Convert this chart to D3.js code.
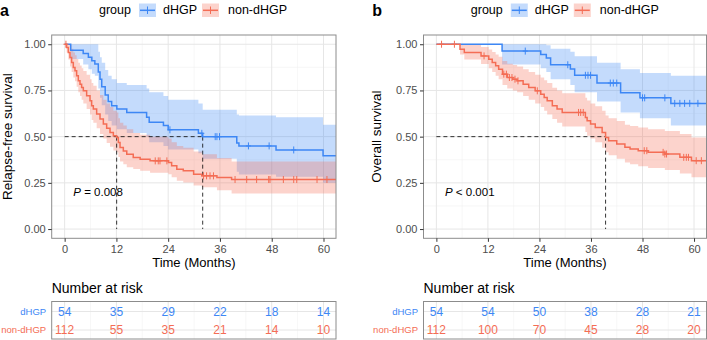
<!DOCTYPE html>
<html>
<head>
<meta charset="utf-8">
<script src="https://cdn.jsdelivr.net/npm/d3@7"></script>
<style>
body { margin: 0; background: #fff; }
svg { display: block; font-family: "Liberation Sans", Arial, sans-serif; }
</style>
</head>
<body>
<div id="chart"></div>
<script>
var W = 707, H = 340;

var groups = ["dHGP", "non-dHGP"];
var colors = ["#3D87F5", "#F46D55"];
var timeBreaks = [0, 12, 24, 36, 48, 60];
var timeMinor = [6, 18, 30, 42, 54];
var survBreaks = [0, 0.25, 0.5, 0.75, 1];
var survMinor = [0.125, 0.375, 0.625, 0.875];
var followEnd = 63;

// panel a: relapse-free survival
var rfsDhgpTime  = [0, 1.4, 4.3, 5.5, 6.3, 7.0, 7.8, 8.2, 8.6, 9.4, 10.1, 10.9, 12.1, 14.4, 19.0, 19.6, 22.9, 24.0, 31.0, 32.0, 39.9, 40.4, 49.0, 59.9];
var rfsDhgpSurv  = [1, .968, .95, .93, .911, .893, .85, .81, .77, .725, .69, .667, .649, .63, .605, .578, .56, .537, .518, .50, .465, .45, .428, .396];
var rfsDhgpUpper = [1, 1, 1, 1, 1, 1, .96, .93, .90, .86, .83, .81, .79, .78, .76, .74, .72, .70, .68, .645, .62, .615, .605, .565];
var rfsDhgpLower = [1, .92, .89, .865, .84, .83, .76, .71, .67, .62, .585, .56, .54, .52, .50, .47, .45, .43, .41, .38, .31, .295, .283, .25];
var rfsDhgpCensor = [24.4, 31.8, 34.9, 35.3, 35.9, 42.6, 47.4, 53.1];

var rfsNonTime  = [0, 0.46, 0.85, 1.24, 1.62, 2.01, 2.4, 2.78, 3.17, 3.56, 3.94, 4.33, 5.1, 5.88, 6.26, 6.65, 7.42, 8.2, 8.97, 9.74, 10.52, 11.29, 12.06, 12.45, 12.84, 13.6, 14.4, 15.9, 17.5, 19.8, 24.05, 24.8, 26, 27.5, 29.9, 31.8, 35.3, 38.7];
var rfsNonSurv  = [1, .982, .955, .928, .901, .874, .856, .829, .802, .784, .766, .748, .721, .694, .667, .649, .622, .595, .568, .546, .523, .505, .495, .468, .441, .423, .405, .387, .378, .369, .36, .342, .324, .315, .297, .288, .279, .268];
var rfsNonUpper = [1, 1, 1, .995, .975, .955, .94, .92, .9, .885, .87, .855, .835, .81, .79, .775, .75, .725, .7, .68, .66, .64, .63, .6, .575, .56, .54, .52, .51, .5, .49, .47, .45, .44, .42, .405, .385, .365];
var rfsNonLower = [1, .955, .917, .88, .85, .82, .8, .77, .74, .72, .7, .68, .65, .62, .59, .575, .545, .515, .49, .465, .445, .425, .415, .39, .365, .35, .335, .325, .315, .305, .297, .28, .262, .252, .236, .226, .21, .193];
var rfsNonCensor = [0.3, 21, 21.7, 22.1, 23.7, 32.2, 32.9, 33.7, 34.5, 39.5, 42.2, 44.5, 47.3, 47.6, 50.7, 53.1, 53.8, 58.5, 60.8];

// panel b: overall survival
var osDhgpTime  = [0, 15.3, 24.3, 25.6, 26.6, 31.2, 32.2, 37.4, 42.9, 47.4, 54.6];
var osDhgpSurv  = [1, .963, .944, .926, .889, .866, .832, .79, .738, .71, .68];
var osDhgpUpper = [1, 1, 1, .995, .975, .96, .935, .9, .865, .845, .83];
var osDhgpLower = [1, .89, .87, .85, .81, .78, .74, .69, .63, .6, .56];
var osDhgpCensor = [20.7, 30.6, 34.7, 35.3, 35.9, 40.5, 41.2, 42.0, 48.0, 48.5, 53.2, 55.5, 56.7, 57.8, 59.0, 60.9];

var osNonTime  = [0, 5.5, 6.5, 10.4, 12.2, 13.0, 13.8, 14.5, 15.4, 16.5, 17.8, 18.8, 20.2, 21.5, 23.0, 24.3, 25.1, 25.8, 27.0, 28.1, 29.3, 34.7, 35.1, 35.9, 37.0, 38.6, 39.4, 40.1, 42.0, 43.9, 45.1, 47.0, 49.3, 53.2, 56.7, 59.4];
var osNonSurv  = [1, .973, .955, .937, .919, .901, .883, .865, .838, .82, .811, .802, .784, .766, .748, .73, .712, .694, .667, .649, .631, .604, .586, .568, .55, .523, .496, .478, .46, .442, .433, .424, .415, .406, .388, .37];
var osNonUpper = [1, 1, 1, .985, .972, .958, .945, .932, .91, .895, .888, .88, .865, .85, .835, .82, .805, .79, .765, .75, .735, .71, .695, .68, .665, .64, .615, .6, .585, .565, .558, .55, .54, .53, .515, .495];
var osNonLower = [1, .945, .917, .893, .87, .85, .83, .81, .78, .76, .75, .74, .72, .70, .68, .66, .64, .62, .595, .575, .555, .525, .505, .49, .47, .44, .415, .4, .38, .36, .35, .34, .33, .32, .30, .28];
var osNonCensor = [1.2, 4.2, 11.1, 15.7, 16.3, 17.0, 17.6, 18.3, 19.0, 23.5, 33.1, 33.6, 34.2, 48.4, 49.0, 52.8, 53.2, 53.6, 57.6, 58.2, 58.7, 60.5, 61.7];

// number at risk at timeBreaks
var riskRfsDhgp = [54, 35, 29, 22, 18, 14];
var riskRfsNon  = [112, 55, 35, 21, 14, 10];
var riskOsDhgp  = [54, 54, 50, 38, 28, 21];
var riskOsNon   = [112, 100, 70, 45, 28, 20];

var panels = [
  {label: "a", left: 51.7, right: 336, ytitle: "Relapse-free survival", ytitleX: 11.5, pval: " = 0.008",
   series: [
     {time: rfsDhgpTime, surv: rfsDhgpSurv, upper: rfsDhgpUpper, lower: rfsDhgpLower, censor: rfsDhgpCensor},
     {time: rfsNonTime, surv: rfsNonSurv, upper: rfsNonUpper, lower: rfsNonLower, censor: rfsNonCensor}],
   risk: [riskRfsDhgp, riskRfsNon]},
  {label: "b", left: 423.5, right: 706.5, ytitle: "Overall survival", ytitleX: 381, pval: " < 0.001",
   series: [
     {time: osDhgpTime, surv: osDhgpSurv, upper: osDhgpUpper, lower: osDhgpLower, censor: osDhgpCensor},
     {time: osNonTime, surv: osNonSurv, upper: osNonUpper, lower: osNonLower, censor: osNonCensor}],
   risk: [riskOsDhgp, riskOsNon]}
];

var plotTop = 35, plotBottom = 238.3;
var tabTop = 301.5, tabBottom = 339;
var gridMajor = "#e6e6e6", gridMinor = "#f1f1f1", borderCol = "#8c8c8c";

var svg = d3.select("#chart").append("svg")
  .attr("width", W).attr("height", H);

function stepAt(s, t) {
  var i = d3.bisectRight(s.time, t) - 1;
  return s.surv[Math.max(i, 0)];
}

panels.forEach(function(p, pi) {
  var x = d3.scaleLinear().domain([-3, 62.9]).range([p.left, p.right]);
  var y = d3.scaleLinear().domain([-0.05, 1.05]).range([plotBottom, plotTop]);
  var g = svg.append("g");

  var clipId = "clip" + pi;
  svg.append("clipPath").attr("id", clipId).append("rect")
    .attr("x", p.left).attr("y", plotTop).attr("width", p.right - p.left).attr("height", plotBottom - plotTop);

  // grid
  g.selectAll(".gxm").data(timeMinor).join("line")
    .attr("x1", d => x(d)).attr("x2", d => x(d)).attr("y1", plotTop).attr("y2", plotBottom)
    .attr("stroke", gridMinor).attr("stroke-width", 0.6);
  g.selectAll(".gym").data(survMinor).join("line")
    .attr("x1", p.left).attr("x2", p.right).attr("y1", d => y(d)).attr("y2", d => y(d))
    .attr("stroke", gridMinor).attr("stroke-width", 0.6);
  g.selectAll(".gx").data(timeBreaks).join("line")
    .attr("x1", d => x(d)).attr("x2", d => x(d)).attr("y1", plotTop).attr("y2", plotBottom)
    .attr("stroke", gridMajor).attr("stroke-width", 1);
  g.selectAll(".gy").data(survBreaks).join("line")
    .attr("x1", p.left).attr("x2", p.right).attr("y1", d => y(d)).attr("y2", d => y(d))
    .attr("stroke", gridMajor).attr("stroke-width", 1);

  var plot = g.append("g").attr("clip-path", "url(#" + clipId + ")");

  var area = d3.area().curve(d3.curveStepAfter)
    .x(d => x(d[0])).y0(d => y(d[2])).y1(d => y(d[1]));
  var line = d3.line().curve(d3.curveStepAfter)
    .x(d => x(d[0])).y(d => y(d[1]));

  p.series.forEach(function(s, si) {
    var band = s.time.map((t, i) => [t, s.upper[i], s.lower[i]]);
    band.push([followEnd, s.upper[s.upper.length - 1], s.lower[s.lower.length - 1]]);
    plot.append("path").attr("d", area(band))
      .attr("fill", colors[si]).attr("fill-opacity", 0.3);
  });

  // median lines
  var medians = p.series.map(function(s) {
    var i = s.surv.findIndex(v => v <= 0.5);
    return i < 0 ? null : s.time[i];
  }).filter(d => d !== null);
  var dash = "4,3";
  plot.append("line")
    .attr("x1", x(0)).attr("x2", x(d3.max(medians))).attr("y1", y(0.5)).attr("y2", y(0.5))
    .attr("stroke", "#000").attr("stroke-width", 0.8).attr("stroke-dasharray", dash);
  medians.forEach(function(m) {
    plot.append("line")
      .attr("x1", x(m)).attr("x2", x(m)).attr("y1", y(0.5)).attr("y2", y(0))
      .attr("stroke", "#000").attr("stroke-width", 0.8).attr("stroke-dasharray", dash);
  });

  p.series.forEach(function(s, si) {
    var pts = s.time.map((t, i) => [t, s.surv[i]]);
    pts.push([followEnd, s.surv[s.surv.length - 1]]);
    plot.append("path").attr("d", line(pts))
      .attr("fill", "none").attr("stroke", colors[si]).attr("stroke-width", 1.5);
    plot.selectAll(null).data(s.censor).join("path")
      .attr("d", function(t) {
        var cx = x(t), cy = y(stepAt(s, t));
        return "M" + cx + "," + (cy - 3.5) + "V" + (cy + 3.5) + "M" + (cx - 2.5) + "," + cy + "H" + (cx + 2.5);
      })
      .attr("stroke", colors[si]).attr("stroke-width", 1).attr("fill", "none");
  });

  // P value
  var pt = g.append("text").attr("x", x(2)).attr("y", y(0.2)).attr("dy", "0.35em")
    .attr("font-size", 11.5).attr("fill", "#000");
  pt.append("tspan").attr("font-style", "italic").text("P");
  pt.append("tspan").text(p.pval);

  // border
  g.append("rect").attr("x", p.left).attr("y", plotTop)
    .attr("width", p.right - p.left).attr("height", plotBottom - plotTop)
    .attr("fill", "none").attr("stroke", borderCol).attr("stroke-width", 1);

  // axes
  var ya = g.append("g").attr("transform", "translate(" + p.left + ",0)")
    .call(d3.axisLeft(y).tickValues(survBreaks).tickFormat(d3.format(".2f")).tickSize(3.5).tickPadding(2.5));
  var xa = g.append("g").attr("transform", "translate(0," + plotBottom + ")")
    .call(d3.axisBottom(x).tickValues(timeBreaks).tickSize(3.5).tickPadding(3));
  [ya, xa].forEach(function(a) {
    a.select(".domain").remove();
    a.selectAll(".tick line").attr("stroke", "#333");
    a.selectAll(".tick text").attr("fill", "#4d4d4d").attr("font-size", 11)
      .attr("font-family", "Liberation Sans, Arial, sans-serif");
  });

  g.append("text").attr("x", (p.left + p.right) / 2).attr("y", 267)
    .attr("text-anchor", "middle").attr("font-size", 13).text("Time (Months)");
  g.append("text")
    .attr("transform", "translate(" + p.ytitleX + "," + ((plotTop + plotBottom) / 2) + ") rotate(-90)")
    .attr("text-anchor", "middle").attr("font-size", 13.5).text(p.ytitle);

  // panel label
  g.append("text").attr("x", p.left - 51.7 + (pi ? 0.5 : 0)).attr("y", 15.5)
    .attr("font-size", 16).attr("font-weight", "bold").text(p.label);

  // legend
  var lx = p.left - 51.7;
  g.append("text").attr("x", lx + 99).attr("y", 13.5).attr("font-size", 12.5).text("group");
  var keyX = [139, 202], labX = [163, 228];
  groups.forEach(function(grp, gi) {
    var kx = lx + keyX[gi];
    g.append("rect").attr("x", kx).attr("y", 3.5).attr("width", 17).attr("height", 13.5)
      .attr("fill", colors[gi]).attr("fill-opacity", 0.3);
    g.append("line").attr("x1", kx + 1).attr("x2", kx + 16).attr("y1", 10.3).attr("y2", 10.3)
      .attr("stroke", colors[gi]).attr("stroke-width", 1.5);
    g.append("line").attr("x1", kx + 8.5).attr("x2", kx + 8.5).attr("y1", 6.5).attr("y2", 14)
      .attr("stroke", colors[gi]).attr("stroke-width", 1);
    g.append("text").attr("x", lx + labX[gi]).attr("y", 13.5).attr("font-size", 12.5).text(grp);
  });

  // risk table
  g.append("text").attr("x", p.left).attr("y", 292.5).attr("font-size", 14).text("Number at risk");
  var rowY = d3.scalePoint().domain(groups).range([tabTop + 10, tabBottom - 9]);
  var tg = g.append("g");
  tg.selectAll(".tm").data(timeMinor).join("line")
    .attr("x1", d => x(d)).attr("x2", d => x(d)).attr("y1", tabTop).attr("y2", tabBottom)
    .attr("stroke", gridMinor).attr("stroke-width", 0.6);
  tg.selectAll(".tM").data(timeBreaks).join("line")
    .attr("x1", d => x(d)).attr("x2", d => x(d)).attr("y1", tabTop).attr("y2", tabBottom)
    .attr("stroke", gridMajor).attr("stroke-width", 1);
  tg.selectAll(".tr").data(groups).join("line")
    .attr("x1", p.left).attr("x2", p.right).attr("y1", d => rowY(d)).attr("y2", d => rowY(d))
    .attr("stroke", gridMajor).attr("stroke-width", 1);
  groups.forEach(function(grp, gi) {
    tg.selectAll(null).data(p.risk[gi]).join("text")
      .attr("x", (d, i) => x(timeBreaks[i])).attr("y", rowY(grp)).attr("dy", "0.36em")
      .attr("text-anchor", "middle").attr("font-size", 12).attr("fill", colors[gi]).text(d => d);
    tg.append("text").attr("x", p.left - 5.5).attr("y", rowY(grp)).attr("dy", "0.35em")
      .attr("text-anchor", "end").attr("font-size", 9.5).attr("fill", colors[gi]).text(grp);
  });
  tg.append("rect").attr("x", p.left).attr("y", tabTop)
    .attr("width", p.right - p.left).attr("height", tabBottom - tabTop)
    .attr("fill", "none").attr("stroke", borderCol).attr("stroke-width", 1);
});
</script>
</body>
</html>
